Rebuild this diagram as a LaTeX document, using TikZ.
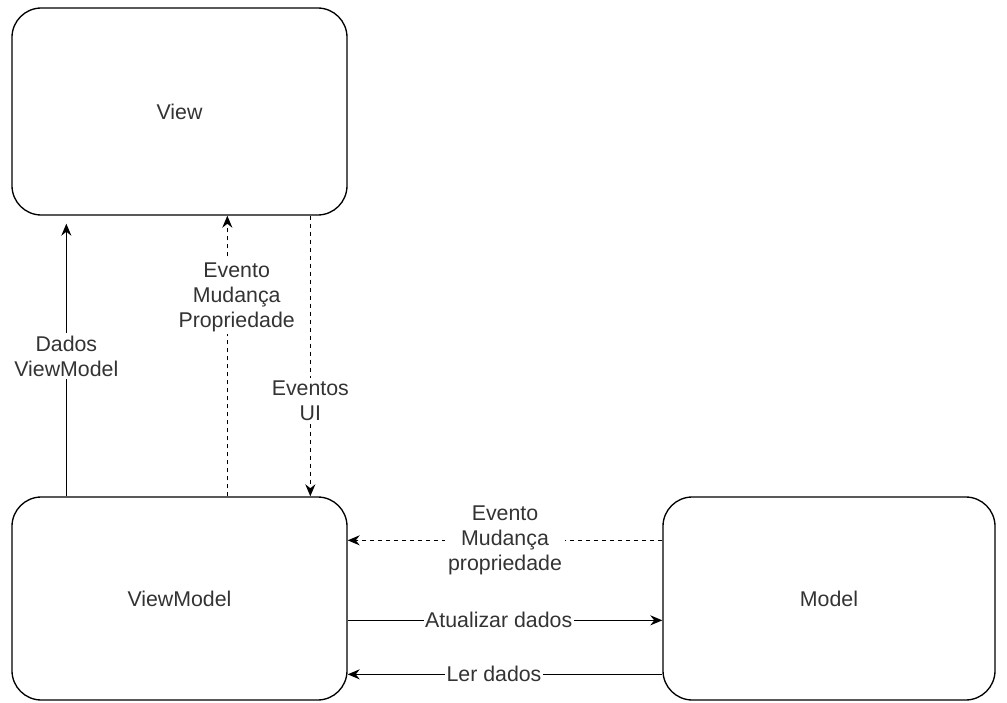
\documentclass[tikz,border=0pt]{standalone}
\usepackage{fontspec}
\setmainfont{Liberation Sans}
\usetikzlibrary{arrows.meta}
\definecolor{textgray}{HTML}{333333}

\begin{document}
\begin{tikzpicture}[x=0.75pt, y=-0.75pt, >={Stealth[length=9pt,width=7.5pt]}]
			\tikzstyle{box} = [draw, line width=1pt, rounded corners=22pt, text=textgray, font=\fontsize{16}{18.75}\selectfont]
			\tikzstyle{lbl} = [fill=white, text=textgray, align=center, inner sep=2pt, font=\fontsize{16}{18.75}\selectfont]
			\useasboundingbox (0,0) rectangle (1007,703);
			\path[->, line width=1pt, dash pattern=on 3pt off 3pt, solid]
			node[box, solid, minimum width=251.25pt, minimum height=155.25pt] (V) at (179.5,111.5) {View}
			node[box, solid, minimum width=251.25pt, minimum height=152.25pt] (VM) at (179.5,598.5) {ViewModel}
			node[box, solid, minimum width=249pt, minimum height=152.25pt] (M) at (829,598.5) {Model}
			([xshift=41.25pt]VM.north west) edge[shorten >=6pt] node[lbl] {Dados\\ViewModel} ([xshift=41.25pt]V.south west)
			([xshift=162pt]VM.north west) edge[dashed, dash pattern=on 3pt off 3pt] node[lbl, pos=0.71, xshift=7pt] {Evento\\Mudança\\Propriedade} ([xshift=162pt]V.south west)
			([xshift=224.25pt]V.south west) edge[dash pattern=on 3pt off 3pt] node[lbl, pos=0.66] {Eventos\\UI} ([xshift=224.25pt]VM.north west)
			([yshift=-33pt]M.north west) edge[dash pattern=on 3pt off 3pt] node[lbl] {Evento\\Mudança\\propriedade} ([yshift=-33pt]VM.north east)
			([yshift=-93pt]VM.north east) edge node[lbl, pos=0.48, inner sep=1pt] {Atualizar dados} ([yshift=-93pt]M.north west)
			([yshift=-133.5pt]M.north west) edge node[lbl, pos=0.535, inner sep=1pt] {Ler dados} ([yshift=-133.5pt]VM.north east)
			;
\end{tikzpicture}
\end{document}
